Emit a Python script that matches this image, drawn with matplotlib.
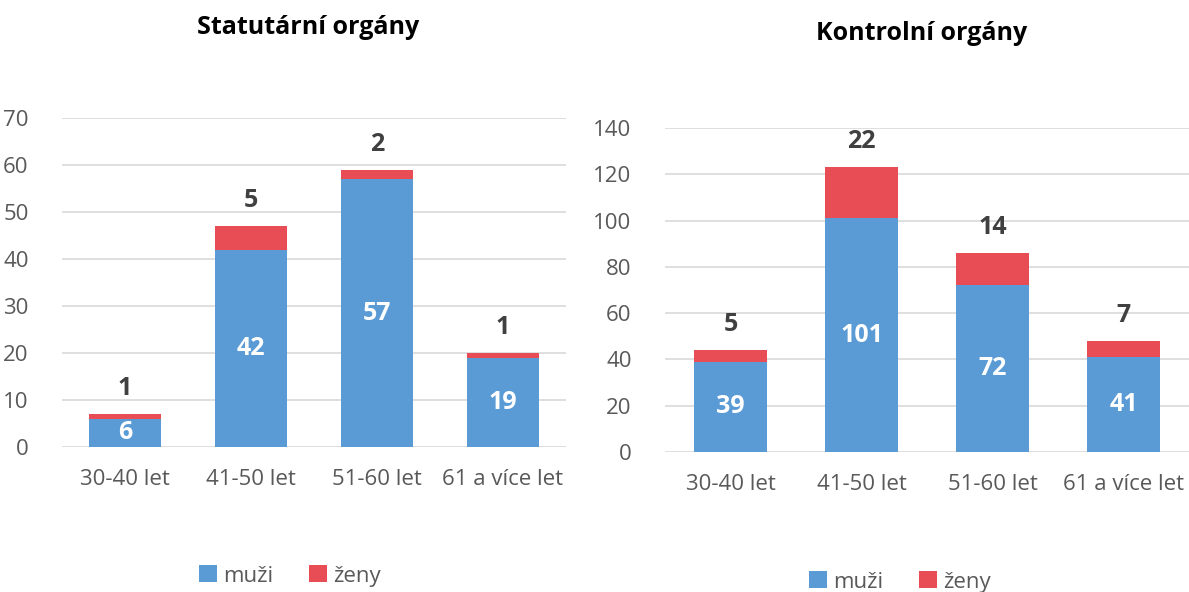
import matplotlib.pyplot as plt
import numpy as np

plt.rcParams['font.family'] = ['Open Sans', 'DejaVu Sans']

kategorie = ["30-40 let", "41-50 let", "51-60 let", "61 a více let"]
stat_muzi = [6, 42, 57, 19]
stat_zeny = [1, 5, 2, 1]
kontr_muzi = [39, 101, 72, 41]
kontr_zeny = [5, 22, 14, 7]

MODRA = "#5B9BD5"
CERVENA = "#E84C55"
SEDA = "#595959"


def graf(ax, muzi, zeny, ymax, krok, sirka):
    x = np.arange(len(kategorie))
    ax.bar(x, muzi, sirka, color=MODRA, label="muži", zorder=2)
    ax.bar(x, zeny, sirka, bottom=muzi, color=CERVENA, label="ženy", zorder=2)
    for xi, m, z in zip(x, muzi, zeny):
        ax.text(xi, m / 2, str(m), ha="center", va="center", color="white",
                fontsize=18, fontweight="bold")
        ax.text(xi, m + z + ymax * 0.04, str(z), ha="center", va="bottom",
                color="#404040", fontsize=18, fontweight="bold")
    ax.set_xlim(-0.5, len(kategorie) - 0.5)
    ax.set_ylim(0, ymax)
    ax.set_yticks(np.arange(0, ymax + 1, krok))
    ax.set_xticks(x, kategorie)
    ax.yaxis.grid(True, color="#d9d9d9", linewidth=1.2, zorder=0)
    ax.set_axisbelow(True)
    for s in ax.spines.values():
        s.set_visible(False)
    ax.tick_params(length=0, labelsize=16, labelcolor=SEDA)
    ax.tick_params(axis="x", pad=16)
    ax.tick_params(axis="y", pad=24)


fig = plt.figure(figsize=(11.89, 5.92), dpi=100)
ax1 = fig.add_axes([62 / 1189, 1 - 447 / 592, 504 / 1189, 329 / 592])
ax2 = fig.add_axes([665 / 1189, 1 - 452 / 592, 524 / 1189, 324 / 592])

graf(ax1, stat_muzi, stat_zeny, 70, 10, 0.57)
graf(ax2, kontr_muzi, kontr_zeny, 140, 20, 0.56)

fig.text(308 / 1189, 1 - 28 / 592, "Statutární orgány", ha="center", va="center",
         fontsize=18, fontweight="bold")
fig.text(922 / 1189, 1 - 33 / 592, "Kontrolní orgány", ha="center", va="center",
         fontsize=18, fontweight="bold")

for ax, lx, ly in [(ax1, 290 / 1189, 1 - 576 / 592), (ax2, 900 / 1189, 1 - 582 / 592)]:
    leg = fig.legend(*ax.get_legend_handles_labels(), loc="center", bbox_to_anchor=(lx, ly),
                     ncol=2, frameon=False, fontsize=16, handlelength=0.8, handleheight=0.8,
                     handletextpad=0.3, columnspacing=1.6)
    for t in leg.get_texts():
        t.set_color(SEDA)

fig.savefig("out.png", dpi=100)
